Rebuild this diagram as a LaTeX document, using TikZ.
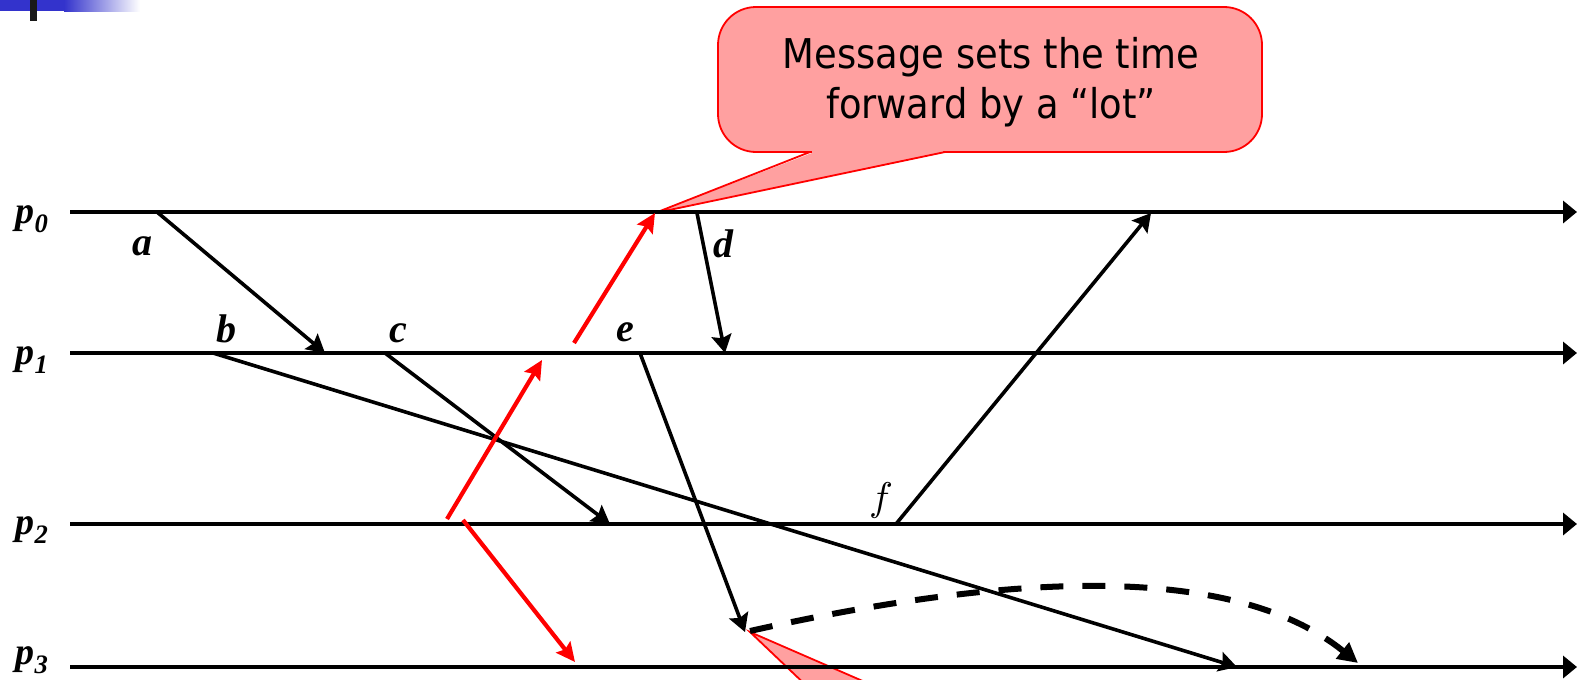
\documentclass[tikz,border=0pt]{standalone}
\usepackage{graphicx}
\usepackage{fontspec}
\setmainfont{Liberation Serif}
\newfontfamily\calloutfont{DejaVu Sans Condensed}
\usetikzlibrary{arrows.meta}
\definecolor{hdrblue}{RGB}{51,51,204}
\definecolor{calloutpink}{RGB}{255,160,160}
\begin{document}
\begin{tikzpicture}[x=1pt,y=-1pt,
  timeline/.style={line width=4pt,-{Triangle[length=14pt,width=22pt]}},
  msg/.style={line width=3.6pt,-{Stealth[length=18pt,width=20pt,inset=3pt]}},
  jump/.style={red,line width=4.2pt,-{Stealth[length=19pt,width=18pt,inset=3pt]}},
  lazy/.style={line width=6pt,dash pattern=on 23pt off 19pt,
    -{Triangle[length=20pt,width=20pt]}},
  callout/.style={draw=red,line width=1.8pt,fill=calloutpink},
  evlabel/.style={inner sep=0pt,font=\fontsize{40}{44}\selectfont\bfseries\itshape},
  plabel/.style={inner sep=0pt,font=\fontsize{38}{44}\selectfont\bfseries\itshape}]
\useasboundingbox (0,0) rectangle (1577,680);

% title bar ornament in the corner
\fill[hdrblue] (0,0) rectangle (64,11);
\shade[left color=hdrblue,right color=white] (64,0) rectangle (140,11);
\fill[black!90] (30,0) rectangle (37,21);

% callout above p0
\filldraw[callout,rounded corners=38pt] (718,7) rectangle (1262,152);
\fill[calloutpink] (812,149) -- (812,153) -- (655,213) -- (943,153) -- (943,149) -- cycle;
\draw[red,line width=1.8pt,line join=miter] (810,152) -- (655,213) -- (945,152);
\node[inner sep=0pt,align=center,font=\calloutfont\fontsize{41}{50}\selectfont]
  (note) at (991,82) {Message sets the time\\forward by a “lot”};

% lower callout, only its pointer shows
\begin{scope}
  \clip (0,0) rectangle (1577,680);
  \filldraw[callout,line join=miter] (813,692) -- (750,632) -- (888,692);
\end{scope}

% process time lines
\coordinate (s0) at (70,212);  \coordinate (t0) at (1577,212);
\coordinate (s1) at (70,353);  \coordinate (t1) at (1577,353);
\coordinate (s2) at (70,524);  \coordinate (t2) at (1577,524);
\coordinate (s3) at (70,667);  \coordinate (t3) at (1577,667);
\draw[timeline] (s0) -- (t0);
\draw[timeline] (s1) -- (t1);
\draw[timeline] (s2) -- (t2);
\draw[timeline] (s3) -- (t3);

\node[plabel] (p0) at (32,219) {p\textsubscript{0}};
\node[plabel] (p1) at (32,360) {p\textsubscript{1}};
\node[plabel] (p2) at (32,530) {p\textsubscript{2}};
\node[plabel] (p3) at (32,660) {p\textsubscript{3}};

% send and receive events
\coordinate (a) at (157,212);  \coordinate (ar) at (325,353);
\coordinate (b) at (213,353);  \coordinate (br) at (1237,667);
\coordinate (c) at (385,353);  \coordinate (cr) at (610,524);
\coordinate (d) at (697,213);  \coordinate (dr) at (725,353);
\coordinate (e) at (640,353);  \coordinate (er) at (745,632);
\coordinate (f) at (896,524);  \coordinate (fr) at (1151,213);

\draw[msg] (a) -- (ar);
\draw[msg] (b) -- (br);
\draw[msg] (c) -- (cr);
\draw[msg] (d) -- (dr);
\draw[msg] (e) -- (er);
\draw[msg] (f) -- (fr);

\node[evlabel] (la) at (142,246) {a};
\node[evlabel] (lb) at (226,329) {b};
\node[evlabel] (lc) at (398,333) {c};
\node[evlabel] (ld) at (723,244) {d};
\node[evlabel] (le) at (625,332) {e};
\node[inner sep=0pt] (lf) at (881,500) {\scalebox{4}{$f$}};

% messages that push the clock forward
\coordinate (q1) at (447,519);  \coordinate (q1r) at (542,360);
\coordinate (q2) at (574,343);  \coordinate (q2r) at (655,213);
\coordinate (q3) at (463,520);  \coordinate (q3r) at (575,662);
\draw[jump] (q1) -- (q1r);
\draw[jump] (q2) -- (q2r);
\draw[jump] (q3) -- (q3r);

% delayed delivery on p3
\coordinate (late) at (1358,663);
\draw[lazy] (750,631) .. controls (1000,575) and (1230,560) .. (late);
\end{tikzpicture}
\end{document}
